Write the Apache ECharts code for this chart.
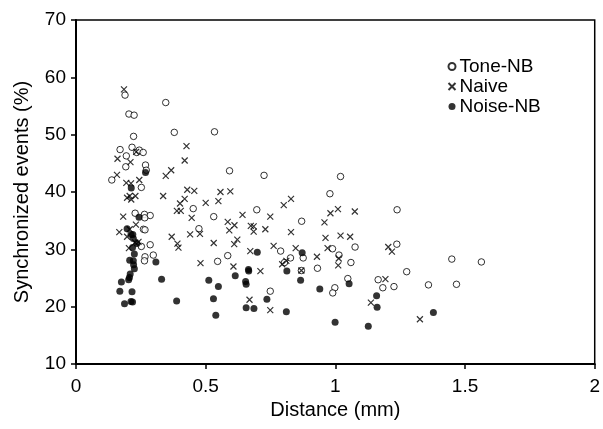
<!DOCTYPE html>
<html>
<head>
<meta charset="utf-8">
<script src="https://cdn.jsdelivr.net/npm/echarts@6/dist/echarts.min.js"></script>
<style>
  html, body { margin: 0; padding: 0; background: #fff; }
  #chart { width: 603px; height: 429px; }
</style>
</head>
<body>
<div id="chart"></div>
<script>
// Tone-NB (open circles): [distance mm, synchronized %]
var toneNB = [
  [0.138, 42.1], [0.170, 47.4], [0.189, 56.9], [0.194, 46.3], [0.192, 44.4],
  [0.204, 53.6], [0.224, 53.4], [0.222, 49.7], [0.216, 47.8], [0.234, 46.9],
  [0.244, 47.3], [0.259, 46.9], [0.268, 44.7], [0.271, 43.8], [0.252, 40.8],
  [0.228, 36.3], [0.264, 36.1], [0.286, 35.9], [0.265, 35.5], [0.260, 33.5],
  [0.266, 33.4], [0.252, 30.5], [0.286, 30.8], [0.266, 28.7], [0.264, 28.0],
  [0.298, 29.0], [0.346, 55.6], [0.379, 50.4], [0.452, 37.1], [0.474, 33.6],
  [0.534, 50.5], [0.531, 35.7], [0.546, 27.9], [0.592, 43.7], [0.585, 28.9],
  [0.697, 36.9], [0.725, 42.9], [0.749, 22.7], [0.789, 29.7], [0.804, 27.7],
  [0.827, 28.5], [0.870, 34.9], [0.876, 28.5], [0.869, 26.3], [0.931, 26.7],
  [0.979, 39.7], [0.989, 30.1], [0.998, 23.3], [0.990, 22.4], [1.014, 29.0],
  [1.020, 42.7], [1.060, 27.7], [1.076, 30.4], [1.048, 24.9], [1.165, 24.7],
  [1.183, 23.3], [1.226, 23.5], [1.238, 36.9], [1.237, 30.9], [1.275, 26.1],
  [1.359, 23.8], [1.449, 28.3], [1.467, 23.9], [1.563, 27.8]
];

// Naive (crosses)
var naive = [
  [0.185, 57.9], [0.160, 45.8], [0.158, 43.0], [0.210, 45.2], [0.194, 41.6],
  [0.212, 41.5], [0.244, 42.1], [0.197, 39.0], [0.207, 39.3], [0.213, 38.7],
  [0.229, 39.3], [0.182, 35.7], [0.167, 33.0], [0.197, 32.2], [0.207, 33.5],
  [0.231, 34.3], [0.204, 30.2], [0.228, 31.2], [0.241, 31.3], [0.232, 47.0],
  [0.336, 39.3], [0.346, 42.8], [0.367, 43.8], [0.369, 32.2], [0.391, 31.0],
  [0.395, 30.3], [0.401, 38.0], [0.404, 36.7], [0.389, 36.7], [0.419, 38.8],
  [0.429, 40.4], [0.419, 45.5], [0.426, 48.0], [0.456, 40.2], [0.446, 35.5],
  [0.440, 32.6], [0.478, 32.7], [0.480, 27.6], [0.500, 38.1], [0.531, 31.1],
  [0.549, 38.4], [0.557, 40.0], [0.595, 40.1], [0.585, 34.8], [0.591, 33.3],
  [0.611, 34.2], [0.622, 31.7], [0.610, 30.9], [0.607, 27.0], [0.642, 36.0],
  [0.674, 34.1], [0.685, 34.0], [0.685, 33.1], [0.730, 33.5], [0.749, 35.7],
  [0.672, 29.7], [0.711, 26.2], [0.762, 30.6], [0.669, 21.2], [0.749, 19.4],
  [0.801, 37.7], [0.829, 38.8], [0.829, 33.0], [0.847, 30.2], [0.795, 27.4],
  [0.811, 28.0], [0.869, 26.3], [0.929, 28.7], [0.958, 34.7], [0.962, 32.0],
  [0.970, 30.2], [0.981, 36.3], [1.010, 37.0], [1.020, 32.4], [1.011, 27.2],
  [1.013, 28.4], [1.057, 32.2], [1.075, 36.6], [1.204, 30.4], [1.218, 29.6],
  [1.193, 24.8], [1.137, 20.7], [1.326, 17.8]
];

// Noise-NB (filled circles)
var noiseNB = [
  [0.169, 22.7], [0.175, 24.3], [0.187, 20.5], [0.212, 20.9], [0.218, 20.8],
  [0.216, 22.6], [0.203, 24.7], [0.206, 25.1], [0.209, 25.7], [0.207, 28.1],
  [0.221, 28.0], [0.225, 26.6], [0.222, 27.3], [0.225, 29.2], [0.218, 30.3],
  [0.221, 31.9], [0.212, 32.6], [0.219, 32.6], [0.197, 33.6], [0.235, 31.0],
  [0.243, 35.6], [0.213, 40.7], [0.268, 43.4], [0.308, 27.8], [0.330, 24.8],
  [0.388, 21.0], [0.512, 24.6], [0.530, 21.4], [0.549, 23.5], [0.539, 18.5],
  [0.614, 25.4], [0.654, 24.4], [0.656, 23.9], [0.665, 26.5], [0.666, 26.2],
  [0.656, 19.8], [0.686, 19.7], [0.699, 29.5], [0.736, 21.3], [0.811, 19.1],
  [0.813, 26.2], [0.872, 29.4], [0.866, 24.6], [0.940, 23.1], [0.999, 17.3],
  [1.053, 24.0], [1.127, 16.6], [1.159, 21.9], [1.161, 19.9], [1.378, 19.0]
];

var seriesNames = ['Tone-NB', 'Naive', 'Noise-NB'];
var xMin = 0, xMax = 2, xStep = 0.5;
var yMin = 10, yMax = 70, yStep = 10;

var crossPath = 'path://M0,0L10,10M10,0L0,10';
var font = 'Arial, "Liberation Sans", sans-serif';

var myChart = echarts.init(document.getElementById('chart'));

var option = {
    animation: false,
    backgroundColor: '#fff',
    grid: {
        left: 76,
        right: 6,
        top: 20,
        bottom: 65,
        show: true,
        borderColor: '#000',
        borderWidth: 1.5,
        backgroundColor: 'transparent'
    },
    legend: {
        orient: 'vertical',
        left: 446,
        top: 57,
        padding: 0,
        itemGap: 1,
        itemWidth: 7,
        itemHeight: 7,
        textStyle: { fontFamily: font, fontSize: 19, color: '#000', padding: [0, 0, 0, -1] },
        data: seriesNames
    },
    xAxis: {
        type: 'value',
        min: xMin,
        max: xMax,
        interval: xStep,
        name: 'Distance (mm)',
        nameLocation: 'middle',
        nameGap: 36,
        nameTextStyle: { fontFamily: font, fontSize: 20, color: '#000' },
        axisLine: { lineStyle: { color: '#000', width: 2 } },
        axisTick: { show: true, length: 5, lineStyle: { color: '#000', width: 1.5 } },
        axisLabel: { fontFamily: font, fontSize: 19, color: '#000', margin: 13 },
        splitLine: { show: false }
    },
    yAxis: {
        type: 'value',
        min: yMin,
        max: yMax,
        interval: yStep,
        name: 'Synchronized events (%)',
        nameLocation: 'middle',
        nameGap: 44,
        nameTextStyle: { fontFamily: font, fontSize: 20, color: '#000' },
        axisLine: { lineStyle: { color: '#000', width: 2 } },
        axisTick: { show: true, length: 5, lineStyle: { color: '#000', width: 1.5 } },
        axisLabel: { fontFamily: font, fontSize: 19, color: '#000', margin: 10 },
        splitLine: { show: false }
    },
    series: [
        {
            name: 'Tone-NB',
            type: 'scatter',
            symbol: 'circle',
            symbolSize: 6.5,
            itemStyle: { color: '#fff', borderColor: '#000', borderWidth: 1 },
            data: toneNB
        },
        {
            name: 'Naive',
            type: 'scatter',
            symbol: crossPath,
            symbolSize: 6,
            itemStyle: { color: 'none', borderColor: '#000', borderWidth: 1.2 },
            data: naive
        },
        {
            name: 'Noise-NB',
            type: 'scatter',
            symbol: 'circle',
            symbolSize: 7,
            itemStyle: { color: '#000', borderColor: '#000', borderWidth: 0 },
            data: noiseNB
        }
    ]
};

myChart.setOption(option);
</script>
</body>
</html>
